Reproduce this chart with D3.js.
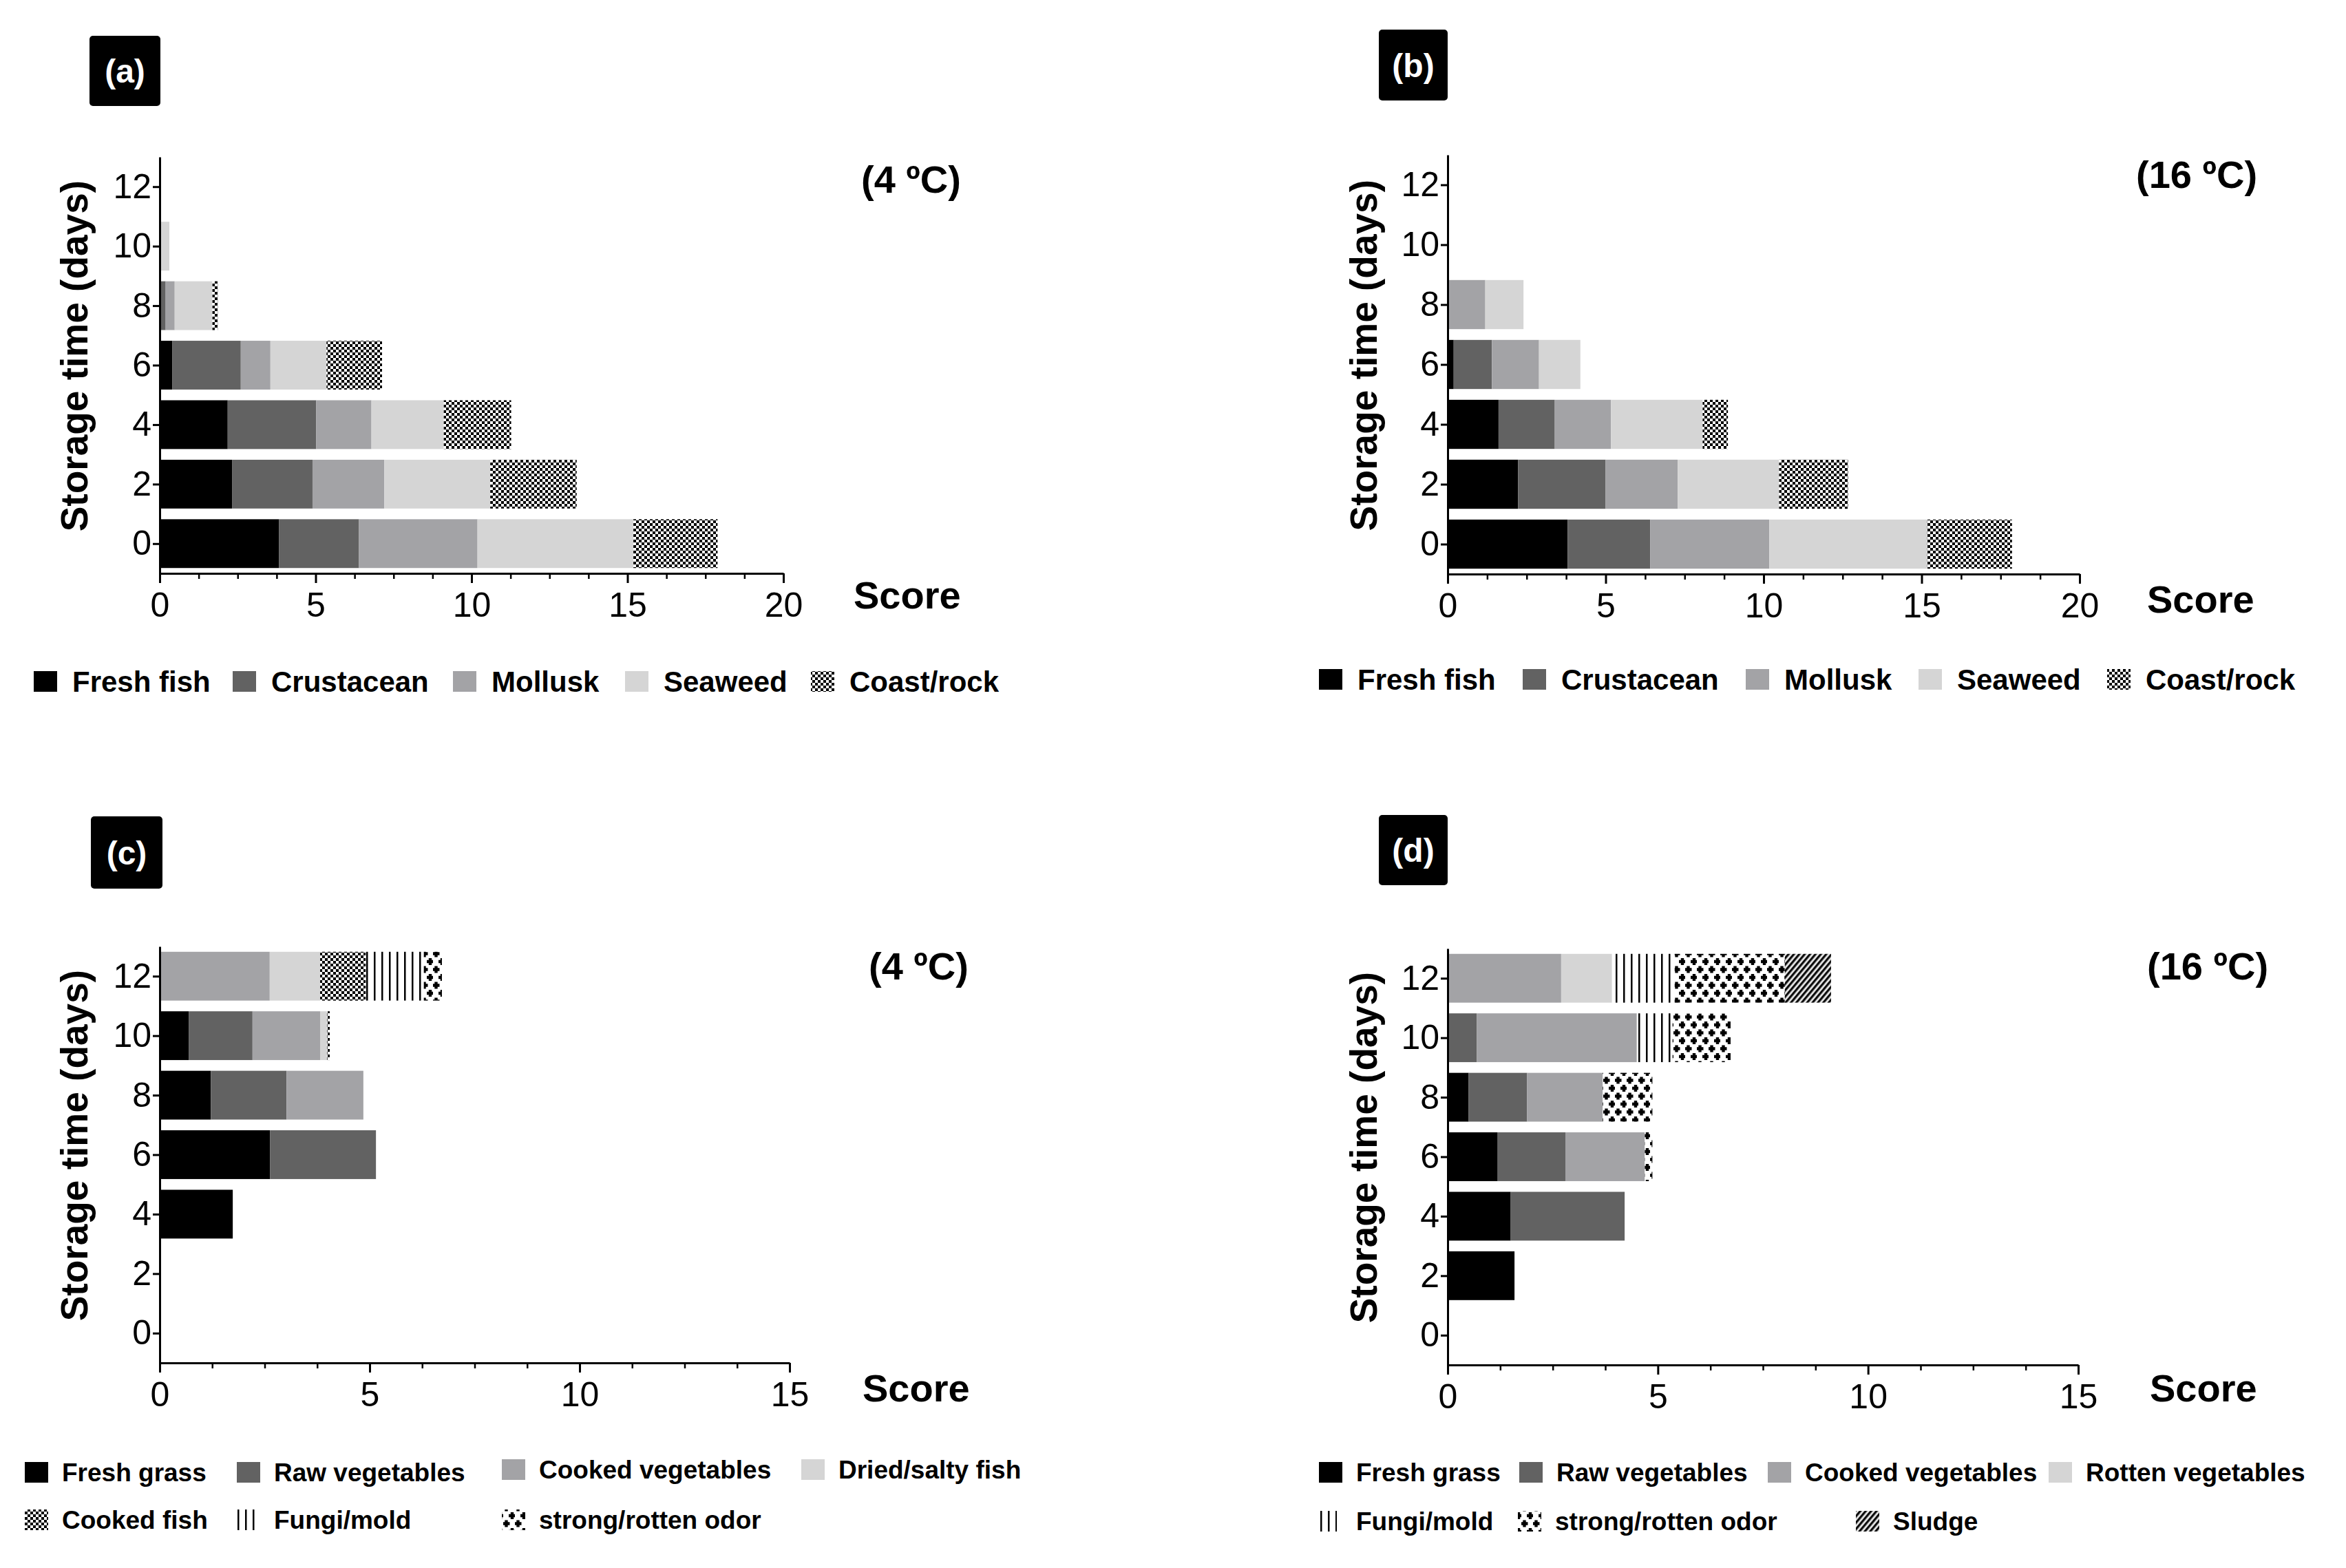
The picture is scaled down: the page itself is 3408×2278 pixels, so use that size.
<!DOCTYPE html>
<meta charset="utf-8">
<script src="https://d3js.org/d3.v7.min.js"></script>
<body style="margin:0;background:#fff">
<div id="chart"></div>
</body>
<script>
// storage days on the y axis
const days = [0, 2, 4, 6, 8, 10, 12];

// (a) 4 ºC, animal-type odours
const catsSea = ["Fresh fish", "Crustacean", "Mollusk", "Seaweed", "Coast/rock"];
const a_freshFish  = [3.83, 2.32, 2.18, 0.40, 0,    0,    0];
const a_crustacean = [2.56, 2.58, 2.84, 2.20, 0.19, 0,    0];
const a_mollusk    = [3.80, 2.30, 1.77, 0.95, 0.29, 0,    0];
const a_seaweed    = [5.00, 3.40, 2.32, 1.80, 1.21, 0.31, 0];
const a_coastRock  = [2.70, 2.77, 2.16, 1.78, 0.17, 0,    0];

// (b) 16 ºC
const b_freshFish  = [3.80, 2.23, 1.61, 0.19, 0,    0, 0];
const b_crustacean = [2.61, 2.77, 1.78, 1.21, 0,    0, 0];
const b_mollusk    = [3.77, 2.28, 1.78, 1.49, 1.19, 0, 0];
const b_seaweed    = [5.00, 3.21, 2.90, 1.31, 1.21, 0, 0];
const b_coastRock  = [2.68, 2.18, 0.80, 0,    0,    0, 0];

// (c) 4 ºC, vegetable / spoilage odours
const catsVegC = ["Fresh grass", "Raw vegetables", "Cooked vegetables", "Dried/salty fish", "Cooked fish", "Fungi/mold", "strong/rotten odor"];
const c_freshGrass = [0, 0, 1.74, 2.63, 1.22, 0.69, 0];
const c_rawVeg     = [0, 0, 0,    2.52, 1.80, 1.52, 0];
const c_cookedVeg  = [0, 0, 0,    0,    1.83, 1.61, 2.62];
const c_driedFish  = [0, 0, 0,    0,    0,    0.17, 1.20];
const c_cookedFish = [0, 0, 0,    0,    0,    0.06, 1.09];
const c_fungi      = [0, 0, 0,    0,    0,    0,    1.38];
const c_odor       = [0, 0, 0,    0,    0,    0,    0.43];

// (d) 16 ºC
const catsVegD = ["Fresh grass", "Raw vegetables", "Cooked vegetables", "Rotten vegetables", "Fungi/mold", "strong/rotten odor", "Sludge"];
const d_freshGrass = [0, 1.59, 1.50, 1.19, 0.50, 0,    0];
const d_rawVeg     = [0, 0,    2.71, 1.61, 1.39, 0.69, 0];
const d_cookedVeg  = [0, 0,    0,    1.89, 1.80, 3.81, 2.70];
const d_rottenVeg  = [0, 0,    0,    0,    0,    0,    1.21];
const d_fungi      = [0, 0,    0,    0,    0,    0.85, 1.49];
const d_odor       = [0, 0,    0,    0.18, 1.18, 1.38, 2.62];
const d_sludge     = [0, 0,    0,    0,    0,    0,    1.10];

const xTicks20 = [0, 5, 10, 15, 20];
const xTicks15 = [0, 5, 10, 15];
const yTicks = [0, 2, 4, 6, 8, 10, 12];

const W = 3408, H = 2278;
const font = "'Liberation Sans', Arial, sans-serif";

const svg = d3.select("#chart").append("svg")
  .attr("width", W).attr("height", H)
  .style("display", "block");

// fills: plain greys and a few hatch patterns
const defs = svg.append("defs");

const checker = defs.append("pattern").attr("id", "checker")
  .attr("patternUnits", "userSpaceOnUse").attr("width", 8).attr("height", 8);
checker.append("rect").attr("width", 8).attr("height", 8).attr("fill", "#fff");
checker.append("rect").attr("width", 4).attr("height", 4).attr("fill", "#000");
checker.append("rect").attr("x", 4).attr("y", 4).attr("width", 4).attr("height", 4).attr("fill", "#000");

const vlines = defs.append("pattern").attr("id", "vlines")
  .attr("patternUnits", "userSpaceOnUse").attr("width", 11).attr("height", 10);
vlines.append("rect").attr("width", 11).attr("height", 10).attr("fill", "#fff");
vlines.append("rect").attr("x", 4).attr("width", 2.5).attr("height", 10).attr("fill", "#000");

const plus = defs.append("pattern").attr("id", "plus")
  .attr("patternUnits", "userSpaceOnUse").attr("width", 17).attr("height", 23);
plus.append("rect").attr("width", 17).attr("height", 23).attr("fill", "#fff");
[[4.5, 5.5], [13, 17]].forEach(([cx, cy]) => {
  plus.append("path")
    .attr("d", `M${cx - 5},${cy - 2.2}h10v4.4h-10z M${cx - 2.2},${cy - 5}h4.4v10h-4.4z`)
    .attr("fill", "#000");
});

const diag = defs.append("pattern").attr("id", "diag")
  .attr("patternUnits", "userSpaceOnUse").attr("width", 6).attr("height", 6)
  .attr("patternTransform", "rotate(40)");
diag.append("rect").attr("width", 6).attr("height", 6).attr("fill", "#9a9a9a");
diag.append("rect").attr("width", 2.6).attr("height", 6).attr("fill", "#000");
diag.append("rect").attr("x", 3.6).attr("width", 1.6).attr("height", 6).attr("fill", "#fff");

const fills = {
  "Fresh fish": "#000", "Crustacean": "#626262", "Mollusk": "#a3a3a6", "Seaweed": "#d5d5d5",
  "Coast/rock": "url(#checker)",
  "Fresh grass": "#000", "Raw vegetables": "#626262", "Cooked vegetables": "#a3a3a6",
  "Dried/salty fish": "#d5d5d5", "Rotten vegetables": "#d5d5d5",
  "Cooked fish": "url(#checker)", "Fungi/mold": "url(#vlines)",
  "strong/rotten odor": "url(#plus)", "Sludge": "url(#diag)"
};

function rowsFrom(keys, series) {
  return days.map((d, i) => {
    const r = {day: d};
    keys.forEach((k, j) => r[k] = series[j][i]);
    return r;
  });
}

const panels = [
  {tag: "(a)", temp: "(4 ºC)", keys: catsSea, rows: rowsFrom(catsSea, [a_freshFish, a_crustacean, a_mollusk, a_seaweed, a_coastRock]),
   xMax: 20, ticks: xTicks20, x0: 232, x1: 1138, yB: 833, yT: 228,
   box: [130, 52, 103, 102], tempPos: [1251, 280], scorePos: [1240, 884], titleX: 108,
   legend: [[[49, 990], [338, 990], [658, 990], [908, 990], [1178, 990]]], legendFont: 42, textGap: 22},
  {tag: "(b)", temp: "(16 ºC)", keys: catsSea, rows: rowsFrom(catsSea, [b_freshFish, b_crustacean, b_mollusk, b_seaweed, b_coastRock]),
   xMax: 20, ticks: xTicks20, x0: 2103, x1: 3021, yB: 834, yT: 225,
   box: [2003, 43, 100, 103], tempPos: [3103, 273], scorePos: [3119, 890], titleX: 1981,
   legend: [[[1916, 987], [2212, 987], [2536, 987], [2787, 987], [3061, 987]]], legendFont: 42, textGap: 22},
  {tag: "(c)", temp: "(4 ºC)", keys: catsVegC, rows: rowsFrom(catsVegC, [c_freshGrass, c_rawVeg, c_cookedVeg, c_driedFish, c_cookedFish, c_fungi, c_odor]),
   xMax: 15, ticks: xTicks15, x0: 232, x1: 1147, yB: 1980, yT: 1375,
   box: [132, 1186, 104, 105], tempPos: [1262, 1423], scorePos: [1253, 2036], titleX: 108,
   legend: [[[36, 2139], [344, 2139], [729, 2135], [1164, 2135]], [[36, 2208], [344, 2208], [729, 2208]]], legendFont: 37, textGap: 20},
  {tag: "(d)", temp: "(16 ºC)", keys: catsVegD, rows: rowsFrom(catsVegD, [d_freshGrass, d_rawVeg, d_cookedVeg, d_rottenVeg, d_fungi, d_odor, d_sludge]),
   xMax: 15, ticks: xTicks15, x0: 2103, x1: 3019, yB: 1983, yT: 1378,
   box: [2003, 1184, 100, 102], tempPos: [3119, 1423], scorePos: [3123, 2036], titleX: 1981,
   legend: [[[1916, 2139], [2207, 2139], [2568, 2139], [2976, 2139]], [[1916, 2210], [2205, 2210], [2696, 2210]]], legendFont: 37, textGap: 20}
];

panels.forEach(drawPanel);

function drawPanel(p) {
  const g = svg.append("g");
  const x = d3.scaleLinear().domain([0, p.xMax]).range([p.x0, p.x1]);
  const y = d3.scaleLinear().domain([-1, 13]).range([p.yB, p.yT]);
  const half = 0.82;

  const stacked = d3.stack().keys(p.keys)(p.rows);
  stacked.forEach(layer => {
    g.append("g").selectAll("rect")
      .data(layer.filter(d => d[1] - d[0] > 0))
      .join("rect")
        .attr("x", d => x(d[0]))
        .attr("width", d => x(d[1]) - x(d[0]))
        .attr("y", d => y(d.data.day + half))
        .attr("height", y(-half) - y(half))
        .attr("fill", fills[layer.key]);
  });

  // minor ticks every 1.25
  const minors = d3.range(0, p.xMax + 0.01, 1.25).filter(v => v % 5 !== 0);
  g.append("g").attr("transform", `translate(0,${p.yB})`)
    .call(d3.axisBottom(x).tickValues(minors).tickSize(8).tickFormat(""))
    .call(a => a.select(".domain").remove())
    .call(a => a.selectAll("line").attr("stroke-width", 2.5));

  g.append("g").attr("transform", `translate(0,${p.yB})`)
    .call(d3.axisBottom(x).tickValues(p.ticks).tickSize(14).tickSizeOuter(0).tickPadding(13))
    .call(a => a.select(".domain").attr("stroke-width", 3))
    .call(a => a.selectAll("line").attr("stroke-width", 3))
    .call(a => a.selectAll("text").style("font", `50px ${font}`).attr("fill", "#000"));

  g.append("g").attr("transform", `translate(${p.x0},0)`)
    .call(d3.axisLeft(y).tickValues(yTicks).tickSize(10).tickSizeOuter(0).tickPadding(2))
    .call(a => a.select(".domain").attr("stroke-width", 3))
    .call(a => a.selectAll("line").attr("stroke-width", 3))
    .call(a => a.selectAll("text").style("font", `50px ${font}`).attr("fill", "#000"));

  // panel tag
  const [bx, by, bw, bh] = p.box;
  g.append("rect").attr("x", bx).attr("y", by).attr("width", bw).attr("height", bh)
    .attr("rx", 5).attr("fill", "#000");
  g.append("text").attr("x", bx + bw / 2).attr("y", by + bh / 2 + 17)
    .attr("text-anchor", "middle").attr("fill", "#fff")
    .style("font", `bold 48px ${font}`).text(p.tag);

  g.append("text").attr("x", p.tempPos[0]).attr("y", p.tempPos[1])
    .style("font", `bold 56px ${font}`).text(p.temp);
  g.append("text").attr("x", p.scorePos[0]).attr("y", p.scorePos[1])
    .style("font", `bold 56px ${font}`).text("Score");

  const yMid = (y(12.2) + y(-0.6)) / 2 - 22;
  g.append("text")
    .attr("transform", `translate(${p.titleX + 19},${yMid}) rotate(-90)`)
    .attr("text-anchor", "middle")
    .style("font", `bold 55px ${font}`).text("Storage time (days)");

  // legend
  let k = 0;
  p.legend.forEach(row => row.forEach(([lx, ly]) => {
    const key = p.keys[k++];
    const sw = key === "Fungi/mold" ? 26 : 34;
    g.append("rect").attr("x", lx).attr("y", ly - 15).attr("width", sw).attr("height", 30)
      .attr("fill", fills[key]);
    g.append("text").attr("x", lx + 34 + p.textGap).attr("y", ly + p.legendFont * 0.36)
      .style("font", `bold ${p.legendFont}px ${font}`).text(key);
  }));
}
</script>
